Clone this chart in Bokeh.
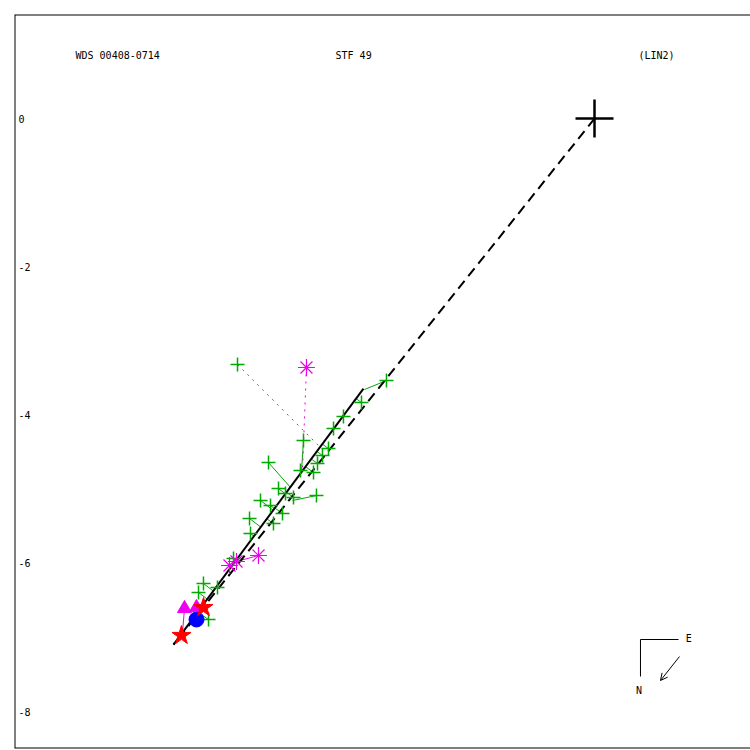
from bokeh.plotting import figure
from bokeh.embed import file_html
from bokeh.resources import INLINE
from bokeh.core.properties import value
from bokeh.models import Arrow, OpenHead, Span

# ---- data (arcsec offsets) ----
green_x = [-4.815, -2.806, -3.143, -3.386, -3.520, -3.925, -3.588, -3.669, -3.736, -3.790,
           -3.966, -4.397, -3.750, -4.262, -4.168, -4.060, -4.505, -4.653, -4.370, -4.208,
           -4.330, -4.640, -4.869, -5.274, -5.341, -5.085, -5.206]
green_y = [-3.318, -3.534, -3.831, -4.019, -4.181, -4.343, -4.451, -4.545, -4.653, -4.775,
           -4.748, -4.640, -5.085, -4.991, -5.058, -5.112, -5.152, -5.395, -5.220, -5.328,
           -5.463, -5.597, -5.935, -6.272, -6.393, -6.326, -6.757]
green_px = [-3.696, -3.102, -3.216, -3.391, -3.516, -3.952, -3.669, -3.743, -3.818, -3.895,
            -3.944, -4.100, -4.073, -4.165, -4.164, -4.152, -4.330, -4.497, -4.312, -4.307,
            -4.415, -4.589, -4.831, -5.135, -5.216, -5.094, -5.344]
green_py = [-4.438, -3.655, -3.777, -4.015, -4.185, -4.761, -4.392, -4.491, -4.594, -4.698,
            -4.764, -4.977, -5.152, -5.065, -5.062, -5.044, -5.286, -5.514, -5.264, -5.256,
            -5.403, -5.638, -5.967, -6.378, -6.488, -6.323, -6.662]
green_rejected = [True] + [False] * 26

mag_x = [-3.885, -4.532, -4.923, -4.829]
mag_y = [-3.358, -5.894, -6.029, -5.975]
mag_px = [-3.939, -4.829, -4.897, -4.836]
mag_py = [-4.748, -5.975, -6.053, -5.972]
mag_rejected = [True, False, False, False]

tri_x = [-5.530, -5.368]
tri_y = [-6.609, -6.596]
tri_px = [-5.557, -5.322]
tri_py = [-6.933, -6.633]

star_x = [-5.571, -5.274]
star_y = [-6.973, -6.596]
star_px = [-5.575, -5.290]
star_py = [-6.973, -6.586]

blue_x = [-5.368]
blue_y = [-6.757]
blue_px = [-5.401]
blue_py = [-6.738]

fit_x = [-5.678, -3.116]
fit_y = [-7.095, -3.642]
primary = (0.0, 0.0)

y_ticks = [0, -2, -4, -6, -8]
y_tick_labels = ["0", "-2", "-4", "-6", "-8"]

title_left = "WDS 00408-0714"
title_mid = "STF  49"
title_right = "(LIN2)"

# ---- layout ----
X0, X1 = -7.823, 2.104
Y0, Y1 = -8.497, 1.403
FONT = value("DejaVu Sans Mono")
GREEN = "#00aa00"
MAG = "#ee00ee"

p = figure(width=750, height=750, x_range=(X0, X1), y_range=(Y0, Y1),
           output_backend="svg", toolbar_location=None,
           min_border_left=14, min_border_top=14, min_border_right=0, min_border_bottom=2)
p.axis.visible = False
p.grid.visible = False
p.outline_line_color = None
p.background_fill_color = "white"

# frame: left, top and bottom edges
for loc, dim in ((X0, "height"), (Y1, "width"), (Y0, "width")):
    p.add_layout(Span(location=loc, dimension=dim, line_color="black", line_width=2))

# residual lines
def residuals(xs, ys, pxs, pys, rej, color):
    for xo, yo, xp, yp, r in zip(xs, ys, pxs, pys, rej):
        p.line([xo, xp], [yo, yp], line_color=color, line_width=1,
               line_dash="2 5" if r else "solid")

residuals(green_x, green_y, green_px, green_py, green_rejected, GREEN)
residuals(mag_x, mag_y, mag_px, mag_py, mag_rejected, MAG)
residuals(tri_x, tri_y, tri_px, tri_py, [False] * len(tri_x), MAG)
residuals(star_x, star_y, star_px, star_py, [False] * len(star_x), "red")
residuals(blue_x, blue_y, blue_px, blue_py, [False], "blue")

# dashed line from primary to start of fit, and the linear fit
p.line([primary[0], fit_x[0]], [primary[1], fit_y[0]], line_color="black",
       line_width=2, line_dash="10 6")
p.line(fit_x, fit_y, line_color="black", line_width=2)

# markers
p.scatter(green_x, green_y, marker="cross", size=14, line_color=GREEN, line_width=1.5)
p.scatter(mag_x, mag_y, marker="asterisk", size=17, line_color=MAG, line_width=1.2)
p.scatter(blue_x, blue_y, marker="circle", size=15, fill_color="blue", line_color="blue")
p.scatter(tri_x, tri_y, marker="triangle", size=14, fill_color=MAG, line_color=MAG)
p.scatter(star_x, star_y, marker="star", size=20, fill_color="red", line_color="red")

# primary
p.scatter([primary[0]], [primary[1]], marker="cross", size=38, line_color="black", line_width=2.5)

# y tick labels inside the frame
p.text(x=[X0] * len(y_ticks), y=y_ticks, text=y_tick_labels, x_offset=4,
       text_font=FONT, text_font_size="10px", text_baseline="middle", text_align="left",
       text_color="black")

# header texts
p.text(x=[-7.000, -3.493, 0.593], y=[0.850] * 3, text=[title_left, title_mid, title_right],
       text_font=FONT, text_font_size="10px", text_baseline="middle", text_align="left",
       text_color="black")

# compass
cx, cy = 0.620, -7.027
p.line([cx, cx + 0.513], [cy, cy], line_color="black", line_width=1)
p.line([cx, cx], [cy, cy - 0.499], line_color="black", line_width=1)
p.text(x=[cx + 0.61, cx - 0.06], y=[cy + 0.01, cy - 0.69], text=["E", "N"],
       text_font=FONT, text_font_size="10px", text_baseline="middle", text_align="left",
       text_color="black")
p.add_layout(Arrow(end=OpenHead(size=7, line_width=1, line_color="black"),
                   x_start=cx + 0.526, y_start=cy - 0.230, x_end=cx + 0.270, y_end=cy - 0.553,
                   line_width=1, line_color="black"))

open("out.html", "w").write(file_html(p, INLINE))
